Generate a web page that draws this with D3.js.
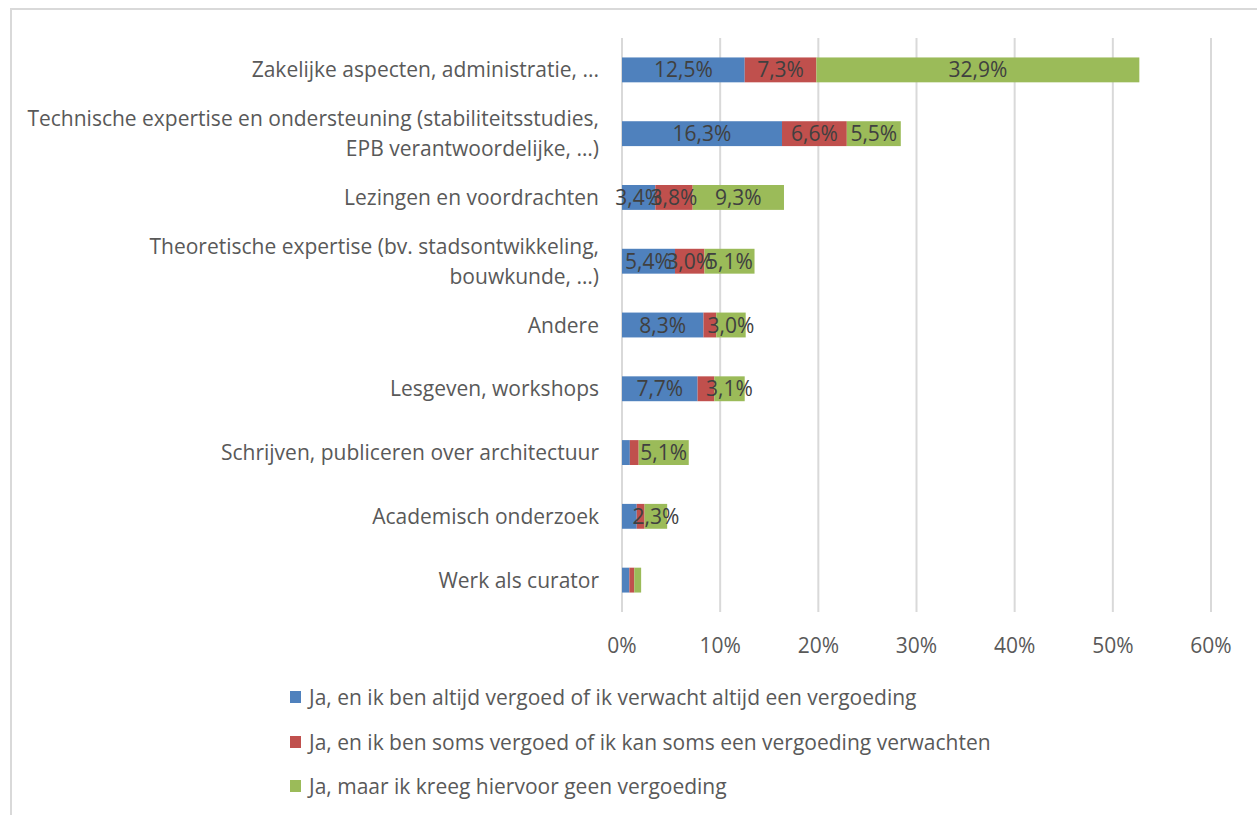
<!DOCTYPE html>
<html>
<head>
<meta charset="utf-8">
<script src="https://cdn.jsdelivr.net/npm/d3@7"></script>
<style>
  body { margin: 0; background: #fff; }
  text { font-family: "Open Sans", Lato, sans-serif; }
</style>
</head>
<body>
<div id="chart"></div>
<script>
// categories top to bottom
const categories = [
  "Zakelijke aspecten, administratie, ...",
  "Technische expertise en ondersteuning (stabiliteitsstudies,|EPB verantwoordelijke, …)",
  "Lezingen en voordrachten",
  "Theoretische expertise (bv. stadsontwikkeling,|bouwkunde, …)",
  "Andere",
  "Lesgeven, workshops",
  "Schrijven, publiceren over architectuur",
  "Academisch onderzoek",
  "Werk als curator"
];
const seriesNames = [
  "Ja, en ik ben altijd vergoed of ik verwacht altijd een vergoeding",
  "Ja, en ik ben soms vergoed of ik kan soms een vergoeding verwachten",
  "Ja, maar ik kreeg hiervoor geen vergoeding"
];
const altijd = [12.5, 16.3, 3.4, 5.4, 8.3, 7.7, 0.8, 1.5, 0.75];
const soms   = [7.3, 6.6, 3.8, 3.0, 1.3, 1.7, 0.9, 0.8, 0.5];
const geen   = [32.9, 5.5, 9.3, 5.1, 3.0, 3.1, 5.1, 2.3, 0.7];
// which data labels are visible (as in the original)
const showAltijd = [true, true, true, true, true, true, false, false, false];
const showSoms   = [true, true, true, true, false, false, false, false, false];
const showGeen   = [true, true, true, true, true, true, true, true, false];
const xTicks = [0, 10, 20, 30, 40, 50, 60];
const colors = ["#4f81bd", "#c0504d", "#9bbb59"];

const W = 1257, H = 815;
const FS = 21;
const svg = d3.select("#chart").append("svg").attr("width", W).attr("height", H);

// chart border
svg.append("rect").attr("x", 11).attr("y", 9).attr("width", W).attr("height", H)
  .attr("fill", "none").attr("stroke", "#d9d9d9").attr("stroke-width", 2);

const x = d3.scaleLinear().domain([0, 60]).range([622, 1211]);
const y = d3.scaleBand().domain(categories).range([38, 612]).paddingInner(0.61).paddingOuter(0.305);

// gridlines
svg.append("g").selectAll("line").data(xTicks).join("line")
  .attr("x1", d => x(d)).attr("x2", d => x(d))
  .attr("y1", 38).attr("y2", 612)
  .attr("stroke", "#d9d9d9").attr("stroke-width", 2);

// tick labels
svg.append("g").selectAll("text").data(xTicks).join("text")
  .attr("x", d => x(d)).attr("y", 645)
  .attr("dy", "0.36em")
  .attr("text-anchor", "middle").attr("font-size", FS).attr("fill", "#595959")
  .text(d => d + "%");

const series = [altijd, soms, geen];
const shows = [showAltijd, showSoms, showGeen];
const stackData = categories.map((c, i) => {
  let acc = 0;
  return series.map((s, k) => {
    const d = { cat: c, k, v: s[i], x0: acc, x1: acc + s[i], show: shows[k][i] };
    acc += s[i];
    return d;
  });
});

const rows = svg.append("g").selectAll("g").data(stackData).join("g");
rows.selectAll("rect").data(d => d).join("rect")
  .attr("x", d => x(d.x0)).attr("width", d => x(d.x1) - x(d.x0))
  .attr("y", d => y(d.cat)).attr("height", y.bandwidth())
  .attr("fill", d => colors[d.k]);

rows.selectAll("text").data(d => d.filter(e => e.show)).join("text")
  .attr("x", d => (x(d.x0) + x(d.x1)) / 2)
  .attr("y", d => y(d.cat) + y.bandwidth() / 2)
  .attr("dy", "0.36em").attr("text-anchor", "middle")
  .attr("font-size", FS).attr("fill", "#404040")
  .text(d => d.v.toFixed(1).replace(".", ",") + "%");

// category labels
const catLabels = svg.append("g").selectAll("text").data(categories).join("text")
  .attr("text-anchor", "end").attr("font-size", FS).attr("fill", "#595959");
catLabels.each(function (c) {
  const lines = c.split("|");
  const cy = y(c) + y.bandwidth() / 2;
  const t = d3.select(this);
  lines.forEach((l, j) => {
    t.append("tspan").attr("x", 599)
      .attr("y", cy + (j - (lines.length - 1) / 2) * 30)
      .attr("dy", "0.36em").text(l);
  });
});

// legend
const legY = [697, 742, 786];
const leg = svg.append("g").selectAll("g").data(seriesNames).join("g")
  .attr("transform", (d, i) => `translate(290, ${legY[i]})`);
leg.append("rect").attr("x", 0).attr("y", -6).attr("width", 11).attr("height", 12)
  .attr("fill", (d, i) => colors[i]);
leg.append("text").attr("x", 19).attr("dy", "0.36em")
  .attr("font-size", FS).attr("fill", "#595959").text(d => d);
</script>
</body>
</html>
